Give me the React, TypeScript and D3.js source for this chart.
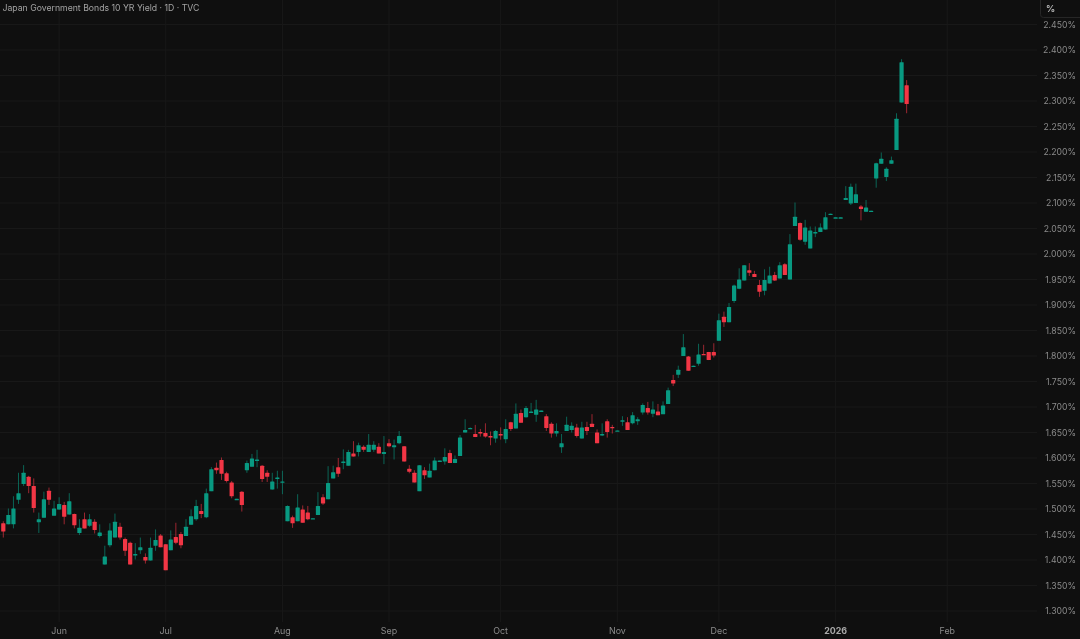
import * as d3 from 'd3';

const opens = [
  1.472, 1.470, 1.470, 1.518, 1.549, 1.563, 1.545, 1.474, 1.483, 1.536,
  1.487, 1.499, 1.508, 1.489, 1.490, 1.453, 1.480, 1.467, 1.475, 1.447,
  1.391, 1.429, 1.444, 1.465, 1.441, 1.434, 1.409, 1.419, 1.406, 1.399,
  1.428, 1.448, 1.431, 1.419, 1.445, 1.451, 1.447, 1.469, 1.480, 1.496,
  1.484, 1.535, 1.581, 1.596, 1.570, 1.552, 1.518, 1.534, 1.576, 1.583,
  1.594, 1.585, 1.571, 1.538, 1.559, 1.552, 1.476, 1.484, 1.476, 1.499,
  1.493, 1.481, 1.488, 1.523, 1.519, 1.560, 1.582, 1.590, 1.585, 1.609,
  1.612, 1.622, 1.612, 1.616, 1.622, 1.608, 1.629, 1.621, 1.629, 1.623,
  1.579, 1.571, 1.535, 1.576, 1.562, 1.576, 1.594, 1.593, 1.610, 1.590,
  1.604, 1.650, 1.658, 1.647, 1.651, 1.649, 1.643, 1.638, 1.647, 1.637,
  1.670, 1.658, 1.688, 1.680, 1.688, 1.685, 1.692, 1.682, 1.667, 1.648,
  1.621, 1.653, 1.655, 1.660, 1.638, 1.661, 1.667, 1.650, 1.644, 1.672,
  1.661, 1.653, 1.671, 1.670, 1.668, 1.672, 1.689, 1.698, 1.687, 1.691,
  1.686, 1.706, 1.753, 1.763, 1.800, 1.799, 1.780, 1.785, 1.804, 1.808,
  1.808, 1.830, 1.877, 1.866, 1.908, 1.932, 1.948, 1.968, 1.961, 1.939,
  1.928, 1.942, 1.959, 1.952, 1.980, 1.950, 2.055, 2.061, 2.024, 2.011,
  2.040, 2.043, 2.048, 2.078, 2.071, 2.071, 2.106, 2.099, 2.100, 2.093,
  2.083, 2.084, 2.148, 2.177, 2.151, 2.177, 2.204, 2.297, 2.331,
];

const highs = [
  1.476, 1.501, 1.525, 1.571, 1.586, 1.565, 1.560, 1.493, 1.534, 1.542,
  1.516, 1.523, 1.514, 1.531, 1.491, 1.480, 1.493, 1.490, 1.480, 1.470,
  1.428, 1.472, 1.491, 1.473, 1.444, 1.436, 1.433, 1.444, 1.413, 1.444,
  1.460, 1.451, 1.431, 1.458, 1.473, 1.455, 1.480, 1.499, 1.518, 1.510,
  1.540, 1.582, 1.591, 1.601, 1.573, 1.555, 1.520, 1.535, 1.595, 1.608,
  1.616, 1.586, 1.576, 1.571, 1.575, 1.575, 1.507, 1.487, 1.529, 1.507,
  1.506, 1.482, 1.533, 1.529, 1.584, 1.585, 1.600, 1.617, 1.616, 1.633,
  1.630, 1.625, 1.647, 1.633, 1.629, 1.643, 1.637, 1.636, 1.653, 1.623,
  1.586, 1.576, 1.586, 1.582, 1.589, 1.601, 1.595, 1.619, 1.616, 1.605,
  1.645, 1.676, 1.660, 1.665, 1.657, 1.668, 1.652, 1.655, 1.660, 1.676,
  1.671, 1.707, 1.695, 1.702, 1.708, 1.714, 1.693, 1.686, 1.670, 1.668,
  1.647, 1.681, 1.670, 1.667, 1.671, 1.671, 1.686, 1.656, 1.668, 1.676,
  1.665, 1.654, 1.682, 1.680, 1.690, 1.680, 1.707, 1.710, 1.711, 1.706,
  1.711, 1.738, 1.763, 1.781, 1.843, 1.800, 1.781, 1.824, 1.822, 1.808,
  1.825, 1.883, 1.887, 1.904, 1.940, 1.972, 1.978, 1.982, 1.967, 1.949,
  1.970, 1.975, 1.965, 1.984, 1.982, 2.039, 2.101, 2.062, 2.067, 2.054,
  2.054, 2.060, 2.082, 2.079, 2.072, 2.072, 2.133, 2.138, 2.138, 2.096,
  2.106, 2.085, 2.179, 2.199, 2.170, 2.191, 2.276, 2.382, 2.341,
];

const lows = [
  1.444, 1.470, 1.462, 1.510, 1.545, 1.531, 1.493, 1.453, 1.483, 1.508,
  1.487, 1.498, 1.470, 1.489, 1.462, 1.449, 1.462, 1.465, 1.452, 1.444,
  1.391, 1.425, 1.444, 1.440, 1.408, 1.391, 1.401, 1.412, 1.393, 1.399,
  1.418, 1.425, 1.380, 1.419, 1.431, 1.423, 1.447, 1.469, 1.477, 1.482,
  1.482, 1.535, 1.569, 1.557, 1.552, 1.521, 1.518, 1.495, 1.571, 1.583,
  1.582, 1.553, 1.553, 1.538, 1.540, 1.529, 1.476, 1.463, 1.476, 1.473,
  1.478, 1.481, 1.488, 1.508, 1.519, 1.560, 1.563, 1.578, 1.585, 1.603,
  1.603, 1.612, 1.612, 1.612, 1.609, 1.588, 1.621, 1.597, 1.627, 1.593,
  1.570, 1.552, 1.535, 1.559, 1.562, 1.576, 1.594, 1.587, 1.590, 1.590,
  1.604, 1.650, 1.658, 1.641, 1.642, 1.640, 1.625, 1.630, 1.636, 1.629,
  1.653, 1.658, 1.669, 1.679, 1.688, 1.671, 1.692, 1.653, 1.640, 1.642,
  1.610, 1.653, 1.650, 1.640, 1.638, 1.645, 1.661, 1.629, 1.643, 1.640,
  1.648, 1.653, 1.663, 1.655, 1.666, 1.665, 1.685, 1.685, 1.680, 1.684,
  1.686, 1.706, 1.741, 1.757, 1.800, 1.771, 1.780, 1.781, 1.802, 1.792,
  1.797, 1.830, 1.857, 1.866, 1.904, 1.931, 1.948, 1.957, 1.955, 1.916,
  1.919, 1.942, 1.947, 1.952, 1.959, 1.950, 2.055, 2.026, 2.018, 2.011,
  2.033, 2.043, 2.048, 2.078, 2.071, 2.071, 2.106, 2.096, 2.100, 2.066,
  2.083, 2.084, 2.130, 2.177, 2.143, 2.177, 2.204, 2.297, 2.276,
];

const closes = [
  1.456, 1.488, 1.501, 1.531, 1.571, 1.545, 1.502, 1.480, 1.519, 1.518,
  1.501, 1.510, 1.485, 1.515, 1.468, 1.463, 1.462, 1.480, 1.459, 1.454,
  1.407, 1.458, 1.475, 1.444, 1.418, 1.391, 1.412, 1.425, 1.399, 1.424,
  1.439, 1.425, 1.380, 1.440, 1.434, 1.429, 1.465, 1.486, 1.506, 1.490,
  1.531, 1.578, 1.576, 1.569, 1.555, 1.525, 1.520, 1.508, 1.590, 1.599,
  1.597, 1.559, 1.563, 1.554, 1.562, 1.554, 1.506, 1.472, 1.503, 1.473,
  1.480, 1.482, 1.506, 1.511, 1.551, 1.572, 1.569, 1.593, 1.612, 1.603,
  1.625, 1.616, 1.626, 1.626, 1.609, 1.612, 1.623, 1.625, 1.643, 1.593,
  1.573, 1.552, 1.586, 1.566, 1.575, 1.595, 1.595, 1.602, 1.590, 1.598,
  1.640, 1.655, 1.659, 1.641, 1.648, 1.642, 1.640, 1.653, 1.645, 1.657,
  1.657, 1.687, 1.669, 1.698, 1.691, 1.695, 1.693, 1.659, 1.648, 1.653,
  1.629, 1.665, 1.663, 1.643, 1.660, 1.653, 1.661, 1.629, 1.647, 1.651,
  1.659, 1.654, 1.674, 1.655, 1.684, 1.676, 1.704, 1.689, 1.695, 1.684,
  1.703, 1.733, 1.746, 1.773, 1.817, 1.771, 1.781, 1.803, 1.802, 1.792,
  1.801, 1.870, 1.866, 1.896, 1.938, 1.950, 1.978, 1.963, 1.955, 1.926,
  1.949, 1.958, 1.948, 1.978, 1.959, 2.019, 2.073, 2.028, 2.052, 2.046,
  2.043, 2.052, 2.072, 2.079, 2.072, 2.072, 2.110, 2.132, 2.117, 2.088,
  2.091, 2.085, 2.178, 2.187, 2.167, 2.184, 2.265, 2.376, 2.294,
];

// bar index where each month label sits
const monthLabels = ['Jun', 'Jul', 'Aug', 'Sep', 'Oct', 'Nov', 'Dec', '2026', 'Feb'];
const monthBars = [11, 32, 55, 76, 98, 121, 141, 164, 186];

const yTicks = d3.range(130, 246, 5).map((d) => d / 100);

const width = 1080;
const height = 639;
const plotRight = 1037;
const plotBottom = 622;

const background = '#0f0f0f';
const gridColor = '#181818';
const upColor = '#089981';
const downColor = '#f23645';
const textColor = '#8b8b8b';
const fontFamily = 'Inter, "Liberation Sans", sans-serif';

export default function App() {
  const x = d3.scaleLinear().domain([0, 178]).range([3.3, 906.65]);
  const y = d3.scaleLinear().domain([1.3, 2.45]).range([611, 24.5]);
  const bodyWidth = 4.2;

  return (
    <svg
      width={width}
      height={height}
      viewBox={`0 0 ${width} ${height}`}
      style={{
        position: 'fixed',
        left: 0,
        top: 0,
        background,
        filter: 'blur(0.4px)',
      }}
    >
      <rect width={width} height={height} fill={background} />

      {/* Grid */}
      {yTicks.map((t) => (
        <line
          key={t}
          x1={0}
          x2={plotRight}
          y1={y(t)}
          y2={y(t)}
          stroke={gridColor}
          strokeWidth={1}
        />
      ))}
      {monthBars.map((b) => (
        <line
          key={b}
          x1={x(b)}
          x2={x(b)}
          y1={0}
          y2={plotBottom}
          stroke={gridColor}
          strokeWidth={1}
        />
      ))}

      {/* Candles */}
      {closes.map((close, i) => {
        const open = opens[i];
        const color = close >= open ? upColor : downColor;
        const top = y(Math.max(open, close));
        const bottom = y(Math.min(open, close));
        return (
          <g key={i}>
            <line
              x1={x(i)}
              x2={x(i)}
              y1={y(highs[i])}
              y2={y(lows[i])}
              stroke={color}
              strokeOpacity={0.62}
              strokeWidth={1}
            />
            <rect
              x={x(i) - bodyWidth / 2}
              y={top}
              width={bodyWidth}
              height={Math.max(bottom - top, 1.4)}
              rx={0.5}
              fill={color}
            />
          </g>
        );
      })}

      {/* Title */}
      <text x={2.5} y={11} fill="#a3a3a3" fontSize={8.7} fontFamily={fontFamily}>
        Japan Government Bonds 10 YR Yield · 1D · TVC
      </text>

      {/* Price axis */}
      <rect
        x={1040.5}
        y={-3}
        width={45}
        height={20.5}
        rx={3}
        fill="none"
        stroke="#262626"
      />
      <text
        x={1046}
        y={12}
        fill="#b5b5b5"
        fontSize={9}
        fontWeight={700}
        fontFamily={fontFamily}
      >
        %
      </text>
      {yTicks.map((t) => (
        <text
          key={t}
          x={1076}
          y={y(t)}
          dy="0.35em"
          textAnchor="end"
          fill={textColor}
          fontSize={8.7}
          fontFamily={fontFamily}
        >
          {d3.format('.3f')(t)}%
        </text>
      ))}

      {/* Time axis */}
      {monthLabels.map((label, i) => (
        <text
          key={label}
          x={x(monthBars[i])}
          y={634}
          textAnchor="middle"
          fill={label === '2026' ? '#a8a8a8' : textColor}
          fontSize={8.9}
          fontWeight={label === '2026' ? 700 : 400}
          fontFamily={fontFamily}
        >
          {label}
        </text>
      ))}
    </svg>
  );
}
